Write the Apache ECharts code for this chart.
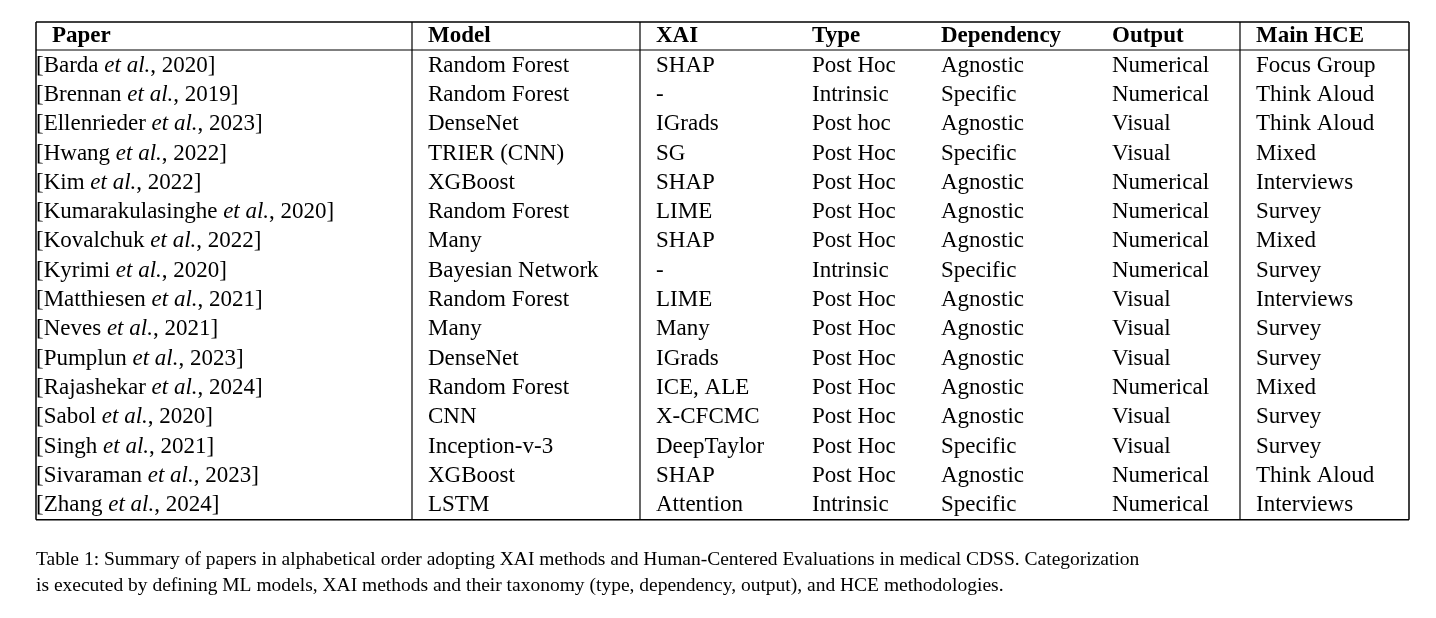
<!DOCTYPE html>
<html><head><meta charset="utf-8">
<script src="https://cdn.jsdelivr.net/npm/echarts@6/dist/echarts.min.js"></script>
<style>html,body{margin:0;background:#fff}#c{width:1436px;height:618px}</style>
</head><body><div id="c"></div>
<script>
const headers = ['Paper', 'Model', 'XAI', 'Type', 'Dependency', 'Output', 'Main HCE'];
const authors = ['Barda', 'Brennan', 'Ellenrieder', 'Hwang', 'Kim', 'Kumarakulasinghe', 'Kovalchuk', 'Kyrimi',
  'Matthiesen', 'Neves', 'Pumplun', 'Rajashekar', 'Sabol', 'Singh', 'Sivaraman', 'Zhang'];
const years = [2020, 2019, 2023, 2022, 2022, 2020, 2022, 2020, 2021, 2021, 2023, 2024, 2020, 2021, 2023, 2024];
const models = ['Random Forest', 'Random Forest', 'DenseNet', 'TRIER (CNN)', 'XGBoost', 'Random Forest', 'Many',
  'Bayesian Network', 'Random Forest', 'Many', 'DenseNet', 'Random Forest', 'CNN', 'Inception-v-3', 'XGBoost', 'LSTM'];
const xai = ['SHAP', '-', 'IGrads', 'SG', 'SHAP', 'LIME', 'SHAP', '-', 'LIME', 'Many', 'IGrads', 'ICE, ALE',
  'X-CFCMC', 'DeepTaylor', 'SHAP', 'Attention'];
const types = ['Post Hoc', 'Intrinsic', 'Post hoc', 'Post Hoc', 'Post Hoc', 'Post Hoc', 'Post Hoc', 'Intrinsic',
  'Post Hoc', 'Post Hoc', 'Post Hoc', 'Post Hoc', 'Post Hoc', 'Post Hoc', 'Post Hoc', 'Intrinsic'];
const dependency = ['Agnostic', 'Specific', 'Agnostic', 'Specific', 'Agnostic', 'Agnostic', 'Agnostic', 'Specific',
  'Agnostic', 'Agnostic', 'Agnostic', 'Agnostic', 'Agnostic', 'Specific', 'Agnostic', 'Specific'];
const outputs = ['Numerical', 'Numerical', 'Visual', 'Visual', 'Numerical', 'Numerical', 'Numerical', 'Numerical',
  'Visual', 'Visual', 'Visual', 'Numerical', 'Visual', 'Visual', 'Numerical', 'Numerical'];
const hce = ['Focus Group', 'Think Aloud', 'Think Aloud', 'Mixed', 'Interviews', 'Survey', 'Mixed', 'Survey',
  'Interviews', 'Survey', 'Survey', 'Mixed', 'Survey', 'Survey', 'Think Aloud', 'Interviews'];
const caption = ['Table 1: Summary of papers in alphabetical order adopting XAI methods and Human-Centered Evaluations in medical CDSS. Categorization',
  'is executed by defining ML models, XAI methods and their taxonomy (type, dependency, output), and HCE methodologies.'];

const chart = echarts.init(document.getElementById('c'));
const font = '"Liberation Serif", "DejaVu Serif", serif';
const colX = [52, 428, 656, 812, 941, 1112, 1256];
const tLeft = 36, tRight = 1409, tTop = 22, headBottom = 50, rowH = 29.3, rowTop = 51;
const tBottom = rowTop + rowH * authors.length;
const vLines = [412, 640, 1240];
const els = [];

const line = (x1, y1, x2, y2, w) => els.push({type: 'line', shape: {x1, y1, x2, y2}, style: {stroke: '#000', lineWidth: w}});
line(tLeft, tTop, tRight, tTop, 1.5);
line(tLeft, headBottom, tRight, headBottom, 1.2);
line(tLeft, tBottom, tRight, tBottom, 1.5);
line(tLeft, tTop, tLeft, tBottom, 1.5);
line(tRight, tTop, tRight, tBottom, 1.5);
vLines.forEach(x => line(x, tTop, x, tBottom, 1.2));

const txt = (x, y, text, extra) => els.push({type: 'text', x, y, style: Object.assign({
  text, font: '23px ' + font, fill: '#000', verticalAlign: 'middle'}, extra)});

headers.forEach((h, i) => txt(colX[i], 36, h, {font: 'bold 23px ' + font}));

const cols = [models, xai, types, dependency, outputs, hce];
authors.forEach((a, r) => {
  const y = rowTop + rowH * (r + 0.5);
  els.push({type: 'text', x: colX[0] - 16, y, style: {
    text: `[${a} {i|et al.}, ${years[r]}]`, font: '23px ' + font, fill: '#000', verticalAlign: 'middle',
    rich: {i: {fontStyle: 'italic', fontFamily: font, fontSize: 23}}}});
  cols.forEach((c, k) => txt(colX[k + 1], y, c[r]));
});

caption.forEach((c, i) => txt(36, 560 + i * 26, c, {font: '19.5px ' + font}));

chart.setOption({backgroundColor: '#fff', graphic: {elements: els}});
</script></body></html>
